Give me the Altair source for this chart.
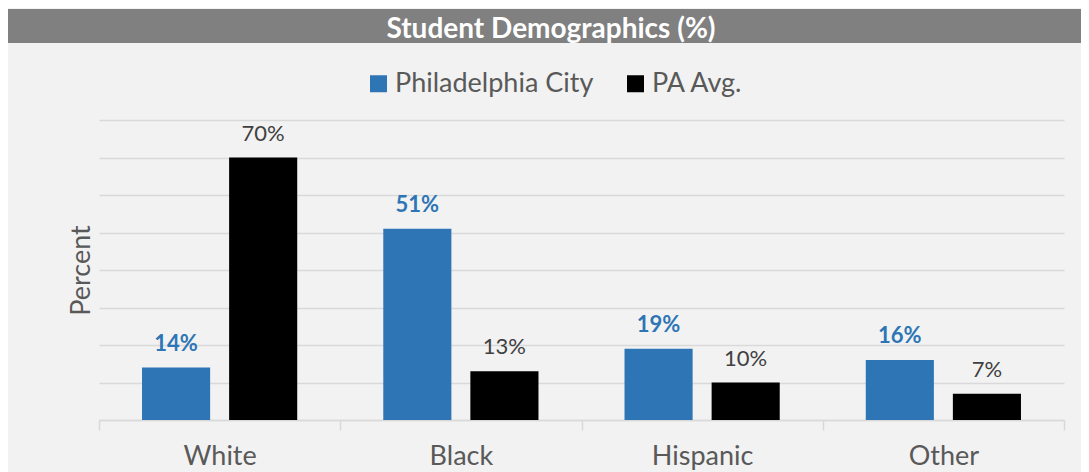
import altair as alt
import pandas as pd

categories = ["White", "Black", "Hispanic", "Other"]
series_names = ["Philadelphia City", "PA Avg."]
philadelphia = [14, 51, 19, 16]
pa_avg = [70, 13, 10, 7]
y_ticks = [0, 10, 20, 30, 40, 50, 60, 70, 80]
chart_title = "Student Demographics (%)"

rows = []
for i, c in enumerate(categories):
    rows.append({"Category": c, "Series": series_names[0], "Value": philadelphia[i], "Label": f"{philadelphia[i]}%"})
    rows.append({"Category": c, "Series": series_names[1], "Value": pa_avg[i], "Label": f"{pa_avg[i]}%"})
df = pd.DataFrame(rows)

FONT = "Lato"
GRID = "#d9d9d9"
TXT = "#595959"
BLUE = "#2E75B6"

x = alt.X(
    "Category:N", sort=categories,
    scale=alt.Scale(paddingInner=0, paddingOuter=0),
    axis=alt.Axis(title=None, labelAngle=0, tickBand="extent", tickSize=10, tickColor=GRID,
                  tickWidth=1.5, domainColor=GRID, domainWidth=1.5, labelFont=FONT,
                  labelFontSize=27, labelColor=TXT, labelPadding=13, grid=False),
)
xo = alt.XOffset("Series:N", sort=series_names,
                 scale=alt.Scale(domain=series_names, paddingInner=0.218, paddingOuter=0.494))
y = alt.Y(
    "Value:Q", scale=alt.Scale(domain=[0, 80], nice=False),
    axis=alt.Axis(values=y_ticks, labels=False, ticks=False, domain=False, gridColor=GRID,
                  gridWidth=1.5, title="Percent", titleFont=FONT, titleFontSize=27,
                  titleFontWeight="normal", titleColor=TXT, titlePadding=4),
)
color = alt.Color(
    "Series:N",
    scale=alt.Scale(domain=series_names, range=[BLUE, "#000000"]),
    legend=alt.Legend(title=None, orient="none", legendX=266, legendY=-50, direction="horizontal",
                      symbolType="square", symbolSize=289, symbolStrokeWidth=0, labelFont=FONT,
                      labelFontSize=27, labelColor=TXT, labelOffset=3, labelLimit=0,
                      columnPadding=28, padding=0),
)

base = alt.Chart(df)
bars = base.mark_bar().encode(x=x, xOffset=xo, y=y, color=color)

blue_text = base.transform_filter(alt.datum.Series == series_names[0]).mark_text(
    font=FONT, fontSize=22, fontWeight="bold", color=BLUE, dy=-17, baseline="alphabetic"
).encode(x=x, xOffset=xo, y=y, text="Label:N")

black_text = base.transform_filter(alt.datum.Series == series_names[1]).mark_text(
    font=FONT, fontSize=22, color="#404040", dy=-17, baseline="alphabetic"
).encode(x=x, xOffset=xo, y=y, text="Label:N")

tdf = pd.DataFrame({"t": [chart_title]})
title_bar = alt.Chart(tdf).mark_rect(color="#808080").encode(
    x=alt.value(-91), x2=alt.value(982), y=alt.value(-111), y2=alt.value(-77)
)
title_text = alt.Chart(tdf).mark_text(
    font=FONT, fontSize=28, fontWeight="bold", color="white", baseline="alphabetic", align="center"
).encode(x=alt.value(452), y=alt.value(-82), text="t:N")

chart = alt.layer(bars, blue_text, black_text, title_bar, title_text).properties(
    width=965, height=300,
    autosize=alt.AutoSizeParams(type="none"),
    padding={"left": 91, "top": 112, "right": 17, "bottom": 52},
    background="#f2f2f2",
).configure_view(stroke=None)

chart.save("out.html", embed_options={"renderer": "svg", "actions": False})
